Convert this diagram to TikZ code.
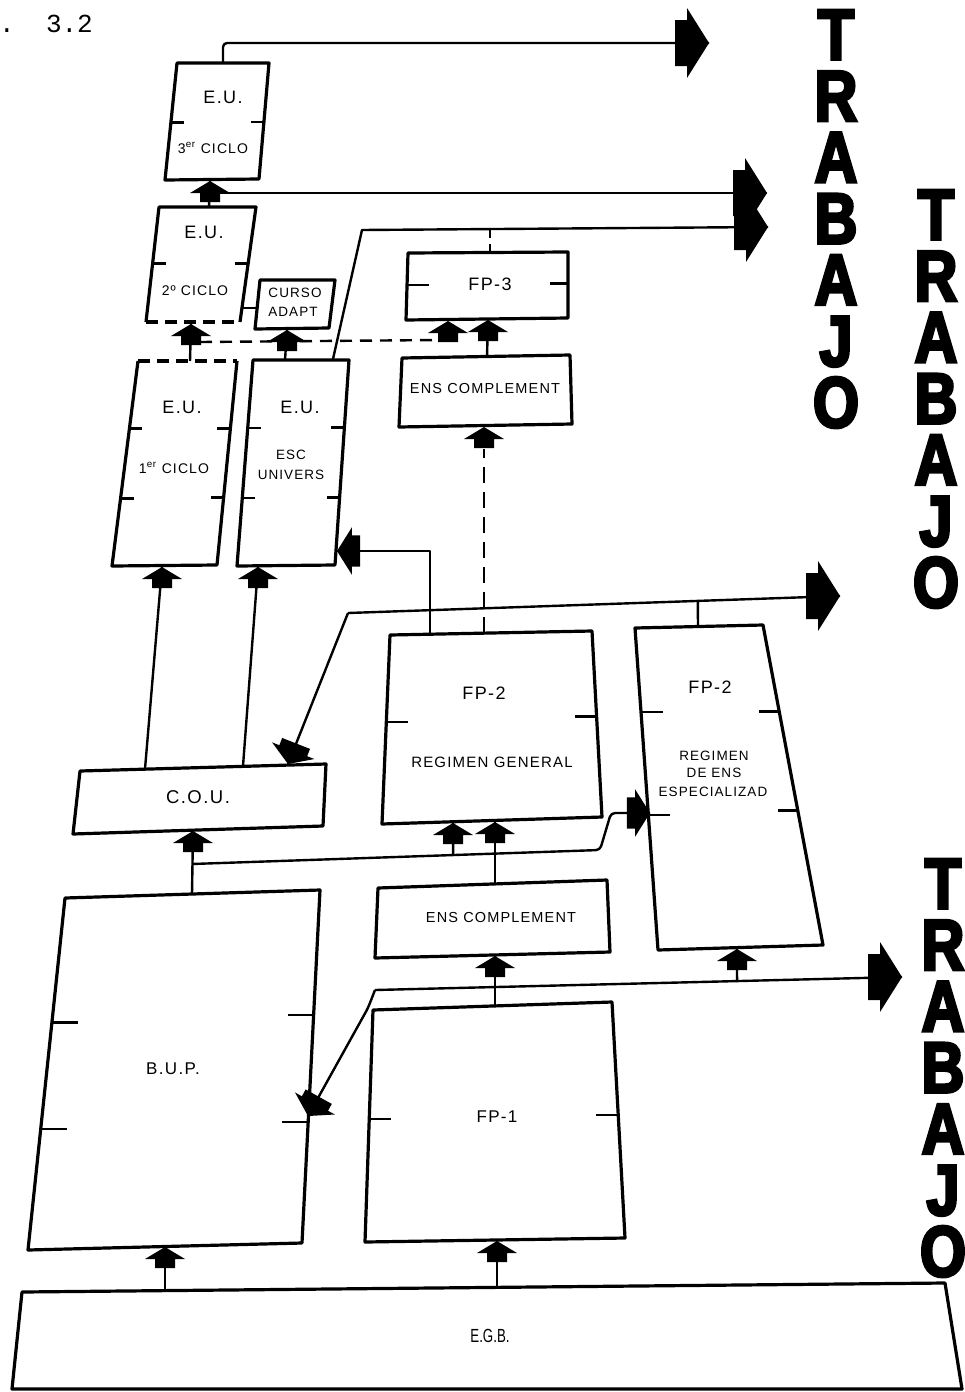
\documentclass[tikz,border=0pt]{standalone}
\usepackage{fontspec}
\setmainfont{Liberation Sans}
\newfontfamily\lab{Liberation Sans}[LetterSpace=8]
\newfontfamily\trab{Liberation Sans}[UprightFont={* Bold}, FakeStretch=0.82, FakeBold=4]
\newfontfamily\mono{Liberation Mono}
\usetikzlibrary{calc}
\newcommand\fsz[1]{\fontsize{#1}{#1}\selectfont}
\begin{document}
\begin{tikzpicture}[x=1pt,y=-1pt,
  box/.style={line width=3.2pt, line join=round},
  conn/.style={line width=2.4pt, line join=round},
  dconn/.style={line width=2.4pt, dash pattern=on 12pt off 8pt},
  lbl/.style={inner sep=0pt, font=\lab},
  trl/.style={inner sep=0pt, align=center, font=\trab\fontsize{72}{61.3}\selectfont},
  uparr/.pic={\fill (0,0) -- (20,12) -- (10,12) -- (10,21) -- (-10,21) -- (-10,12) -- (-20,12) -- cycle;},
  bigarr/.pic={\fill (0,0) -- (-22,-35) -- (-22,-23) -- (-34,-23) -- (-34,23) -- (-22,23) -- (-22,35) -- cycle;}
]
\useasboundingbox (0,0) rectangle (964,1392);

% ---------- boxes ----------
% E.U. 3er ciclo
\coordinate (eu3-tl) at (177,63); \coordinate (eu3-tr) at (269,63);
\coordinate (eu3-br) at (259,179); \coordinate (eu3-bl) at (165,180);
\draw[box] (eu3-tl) -- (eu3-tr) -- (eu3-br) -- (eu3-bl) -- cycle;
\draw[conn] ($(eu3-tl)!0.51!(eu3-bl)$) -- +(13,0);
\draw[conn] ($(eu3-tr)!0.51!(eu3-br)$) -- +(-13,0);
\node[lbl] (eu3a) at (223,97) {\fsz{18}E.U.};
\node[lbl] (eu3b) at (213,148) {\fsz{14}3\textsuperscript{er} CICLO};

% E.U. 2o ciclo
\coordinate (eu2-tl) at (159,207); \coordinate (eu2-tr) at (256,207);
\coordinate (eu2-br) at (240,322); \coordinate (eu2-bl) at (146,322);
\draw[box] (eu2-br) -- (eu2-tr) -- (eu2-tl) -- (eu2-bl);
\draw[box, dash pattern=on 12pt off 7pt] (eu2-bl) -- (eu2-br);
\draw[conn] ($(eu2-tl)!0.49!(eu2-bl)$) -- +(13,0);
\draw[conn] ($(eu2-tr)!0.49!(eu2-br)$) -- +(-13,0);
\node[lbl] (eu2a) at (204,232) {\fsz{18}E.U.};
\node[lbl] (eu2b) at (195,291) {\fsz{14}2º CICLO};

% CURSO ADAPT
\coordinate (cur-tl) at (260,280); \coordinate (cur-tr) at (335,280);
\coordinate (cur-br) at (329,328); \coordinate (cur-bl) at (255,329);
\draw[box] (cur-tl) -- (cur-tr) -- (cur-br) -- (cur-bl) -- cycle;
\node[lbl] (cura) at (295,293) {\fsz{13.5}CURSO};
\node[lbl] (curb) at (293,312) {\fsz{13.5}ADAPT};

% E.U. 1er ciclo
\coordinate (eu1-tl) at (138,361); \coordinate (eu1-tr) at (237,361);
\coordinate (eu1-br) at (217,565); \coordinate (eu1-bl) at (112,566);
\draw[box] (eu1-tr) -- (eu1-br) -- (eu1-bl) -- (eu1-tl);
\draw[box, dash pattern=on 12pt off 7pt] (eu1-tl) -- (eu1-tr);
\draw[conn] ($(eu1-tl)!0.33!(eu1-bl)$) -- +(13,0);
\draw[conn] ($(eu1-tr)!0.33!(eu1-br)$) -- +(-13,0);
\draw[conn] ($(eu1-tl)!0.67!(eu1-bl)$) -- +(13,0);
\draw[conn] ($(eu1-tr)!0.67!(eu1-br)$) -- +(-13,0);
\node[lbl] (eu1a) at (182,407) {\fsz{18}E.U.};
\node[lbl] (eu1b) at (174,468) {\fsz{14}1\textsuperscript{er} CICLO};

% E.U. Esc Univers
\coordinate (esc-tl) at (253,360); \coordinate (esc-tr) at (349,360);
\coordinate (esc-br) at (335,565); \coordinate (esc-bl) at (237,566);
\draw[box] (esc-tl) -- (esc-tr) -- (esc-br) -- (esc-bl) -- cycle;
\draw[conn] ($(esc-tl)!0.33!(esc-bl)$) -- +(13,0);
\draw[conn] ($(esc-tr)!0.33!(esc-br)$) -- +(-13,0);
\draw[conn] ($(esc-tl)!0.67!(esc-bl)$) -- +(13,0);
\draw[conn] ($(esc-tr)!0.67!(esc-br)$) -- +(-13,0);
\node[lbl] (esca) at (300,407) {\fsz{18}E.U.};
\node[lbl] (escb) at (291,455) {\fsz{13.5}ESC};
\node[lbl] (escc) at (291,475) {\fsz{13.5}UNIVERS};

% FP-3
\coordinate (fp3-tl) at (408,253); \coordinate (fp3-tr) at (568,252);
\coordinate (fp3-br) at (568,318); \coordinate (fp3-bl) at (406,320);
\draw[box] (fp3-tl) -- (fp3-tr) -- (fp3-br) -- (fp3-bl) -- cycle;
\draw[conn] ($(fp3-tl)!0.48!(fp3-bl)$) -- +(22,0);
\draw[conn] ($(fp3-tr)!0.48!(fp3-br)$) -- +(-18,0);
\node[lbl] (fp3a) at (490,284) {\fsz{18}FP-3};

% ENS COMPLEMENT (upper)
\coordinate (ens1-tl) at (402,358); \coordinate (ens1-tr) at (570,355);
\coordinate (ens1-br) at (572,424); \coordinate (ens1-bl) at (399,427);
\draw[box] (ens1-tl) -- (ens1-tr) -- (ens1-br) -- (ens1-bl) -- cycle;
\node[lbl] (ens1a) at (485,389) {\fsz{14.5}ENS COMPLEMENT};

% FP-2 regimen general
\coordinate (fp2g-tl) at (390,635); \coordinate (fp2g-tr) at (592,631);
\coordinate (fp2g-br) at (602,817); \coordinate (fp2g-bl) at (382,824);
\draw[box] (fp2g-tl) -- (fp2g-tr) -- (fp2g-br) -- (fp2g-bl) -- cycle;
\draw[conn] ($(fp2g-tl)!0.46!(fp2g-bl)$) -- +(22,0);
\draw[conn] ($(fp2g-tr)!0.46!(fp2g-br)$) -- +(-22,0);
\node[lbl] (fp2ga) at (484,693) {\fsz{18}FP-2};
\node[lbl] (fp2gb) at (492,762) {\fsz{15}REGIMEN GENERAL};

% FP-2 regimen de ens especializad
\coordinate (fp2e-tl) at (635,628); \coordinate (fp2e-tr) at (763,625);
\coordinate (fp2e-br) at (823,945); \coordinate (fp2e-bl) at (658,950);
\draw[box] (fp2e-tl) -- (fp2e-tr) -- (fp2e-br) -- (fp2e-bl) -- cycle;
\draw[conn] ($(fp2e-tl)!0.26!(fp2e-bl)$) -- +(22,0);
\draw[conn] ($(fp2e-tr)!0.27!(fp2e-br)$) -- +(-20,0);
\draw[conn] ($(fp2e-tl)!0.58!(fp2e-bl)$) -- +(22,0);
\draw[conn] ($(fp2e-tr)!0.58!(fp2e-br)$) -- +(-20,0);
\node[lbl] (fp2ea) at (710,687) {\fsz{18}FP-2};
\node[lbl] (fp2eb) at (714,756) {\fsz{13.5}REGIMEN};
\node[lbl] (fp2ec) at (714,773) {\fsz{13.5}DE ENS};
\node[lbl] (fp2ed) at (713,792) {\fsz{13.5}ESPECIALIZAD};

% C.O.U.
\coordinate (cou-tl) at (80,771); \coordinate (cou-tr) at (326,764);
\coordinate (cou-br) at (323,826); \coordinate (cou-bl) at (73,834);
\draw[box] (cou-tl) -- (cou-tr) -- (cou-br) -- (cou-bl) -- cycle;
\node[lbl] (coua) at (198,797) {\fsz{18.5}C.O.U.};

% ENS COMPLEMENT (lower)
\coordinate (ens2-tl) at (378,888); \coordinate (ens2-tr) at (607,880);
\coordinate (ens2-br) at (610,952); \coordinate (ens2-bl) at (375,958);
\draw[box] (ens2-tl) -- (ens2-tr) -- (ens2-br) -- (ens2-bl) -- cycle;
\node[lbl] (ens2a) at (501,917) {\fsz{14.5}ENS COMPLEMENT};

% B.U.P.
\coordinate (bup-tl) at (65,898); \coordinate (bup-tr) at (320,890);
\coordinate (bup-br) at (302,1243); \coordinate (bup-bl) at (28,1250);
\draw[box] (bup-tl) -- (bup-tr) -- (bup-br) -- (bup-bl) -- cycle;
\draw[conn] ($(bup-tl)!0.354!(bup-bl)$) -- +(26,0);
\draw[conn] ($(bup-tr)!0.354!(bup-br)$) -- +(-26,0);
\draw[conn] ($(bup-tl)!0.657!(bup-bl)$) -- +(26,0);
\draw[conn] ($(bup-tr)!0.657!(bup-br)$) -- +(-26,0);
\node[lbl] (bupa) at (173,1069) {\fsz{17}B.U.P.};

% FP-1
\coordinate (fp1-tl) at (373,1010); \coordinate (fp1-tr) at (612,1002);
\coordinate (fp1-br) at (625,1238); \coordinate (fp1-bl) at (365,1242);
\draw[box] (fp1-tl) -- (fp1-tr) -- (fp1-br) -- (fp1-bl) -- cycle;
\draw[conn] ($(fp1-tl)!0.47!(fp1-bl)$) -- +(22,0);
\draw[conn] ($(fp1-tr)!0.48!(fp1-br)$) -- +(-22,0);
\node[lbl] (fp1a) at (497,1117) {\fsz{17}FP-1};

% E.G.B.
\coordinate (egb-tl) at (22,1292); \coordinate (egb-tr) at (945,1283);
\coordinate (egb-br) at (962,1389); \coordinate (egb-bl) at (12,1389);
\draw[box] (egb-tl) -- (egb-tr) -- (egb-br) -- (egb-bl) -- cycle;
\node[inner sep=0pt] (egba) at (490,1336) {\fsz{19}\scalebox{0.7}[1]{E.G.B.}};

% ---------- connection points ----------
\coordinate (eu3-top) at (223,63);
\coordinate (eu3-bot) at (210,181);
\coordinate (eu2-top) at (209,207);
\coordinate (eu2-bot) at (191,324);
\coordinate (eu2-r) at (241,308);
\coordinate (cur-l) at (257,308);
\coordinate (cur-bot) at (287,330);
\coordinate (eu1-top) at (190,361);
\coordinate (eu1-bot) at (162,567);
\coordinate (esc-top) at (285,360);
\coordinate (esc-top2) at (333,359);
\coordinate (esc-bot) at (258,567);
\coordinate (esc-in) at (337,551);
\coordinate (fp3-top) at (490,253);
\coordinate (fp3-botL) at (448,321);
\coordinate (fp3-botR) at (488,320);
\coordinate (ens1-top) at (487,357);
\coordinate (ens1-bot) at (484,427);
\coordinate (fp2g-top1) at (430,634);
\coordinate (fp2g-top2) at (484,633);
\coordinate (fp2g-botL) at (453,823);
\coordinate (fp2g-botR) at (495,822);
\coordinate (fp2e-top) at (698,627);
\coordinate (fp2e-in) at (650,813);
\coordinate (fp2e-bot) at (737,949);
\coordinate (cou-t1) at (145,769);
\coordinate (cou-t2) at (243,766);
\coordinate (cou-in) at (288,764);
\coordinate (cou-bot) at (193,831);
\coordinate (bup-top) at (192,894);
\coordinate (bup-in) at (308,1116);
\coordinate (bup-bot) at (165,1247);
\coordinate (ens2-top) at (495,884);
\coordinate (ens2-bot) at (495,956);
\coordinate (fp1-top) at (495,1006);
\coordinate (fp1-bot) at (497,1241);
\coordinate (egb-t1) at (165,1291);
\coordinate (egb-t2) at (497,1287);
% junctions and bends
\coordinate (d1) at (200,342);
\coordinate (j3) at (362,230);
\coordinate (j12) at (348,613);
\coordinate (j15) at (192,864);
\coordinate (b15) at (600,850);
\coordinate (c15) at (611,813);
\coordinate (j18) at (375,990);
\coordinate (k19) at (368,1008);
% exits to TRABAJO
\coordinate (w1) at (709,43);
\coordinate (w2) at (767,193);
\coordinate (w3) at (768,227);
\coordinate (w4) at (840,596);
\coordinate (w5) at (902,977);

% ---------- connectors ----------
\draw[conn, rounded corners=4pt] (eu3-top) |- (w1);
\draw[conn] (eu2-top) -- (eu3-bot);
\draw[conn] (eu3-bot |- w2) -- (w2);
\draw[conn] (esc-top2) -- (j3) -- (w3);
\draw[dconn, dash pattern=on 9pt off 6pt] (fp3-top) -- (fp3-top |- j3);
\draw[conn] (eu2-r) -- (cur-l);
\draw[conn] (eu1-top) -- (eu2-bot);
\draw[conn] (esc-top) -- (cur-bot);
\draw[dconn] (d1) -- ($(fp3-botL)+(-6,19)$);
\draw[conn] (ens1-top) -- (fp3-botR);
\draw[dconn, dash pattern=on 16pt off 9pt] (fp2g-top2) -- ($(ens1-bot)+(0,22)$);
\draw[conn] (fp2g-top1) |- (esc-in);
\draw[conn] (j12) -- (w4);
\draw[conn] (fp2e-top) -- ($(j12)!0.711!(w4)$);
\draw[conn] (j12) -- (cou-in);
\draw[conn] (cou-t1) -- (eu1-bot);
\draw[conn] (cou-t2) -- (esc-bot);
\draw[conn] (bup-top) -- (cou-bot);
\draw[conn, rounded corners=4pt] (j15) -- (b15) -- (c15) -- (fp2e-in);
\draw[conn] ($(j15)!0.64!(b15)$) -- (fp2g-botL);
\draw[conn] (ens2-top) -- (fp2g-botR);
\draw[conn] (fp1-top) -- (ens2-bot);
\draw[conn] (j18) -- (w5);
\draw[conn] ($(j18)!0.687!(w5)$) -- (fp2e-bot);
\draw[conn, rounded corners=5pt] (j18) -- (k19) -- (bup-in);
\draw[conn] (egb-t1) -- (bup-bot);
\draw[conn] (egb-t2) -- (fp1-bot);

% ---------- arrowheads ----------
\pic at (eu3-bot) {uparr};
\pic at (eu2-bot) {uparr};
\pic at (cur-bot) {uparr};
\pic at (fp3-botL) {uparr};
\pic at (fp3-botR) {uparr};
\pic at (ens1-bot) {uparr};
\pic at (eu1-bot) {uparr};
\pic at (esc-bot) {uparr};
\pic at (cou-bot) {uparr};
\pic at (fp2g-botL) {uparr};
\pic at (fp2g-botR) {uparr};
\pic at (ens2-bot) {uparr};
\pic at (fp2e-bot) {uparr};
\pic at (bup-bot) {uparr};
\pic at (fp1-bot) {uparr};
\pic at (w1) {bigarr};
\pic at (w2) {bigarr};
\pic at (w3) {bigarr};
\pic at (w4) {bigarr};
\pic at (w5) {bigarr};
\pic[rotate=180, scale=0.68] at (esc-in) {bigarr};
\pic[scale=0.68] at (fp2e-in) {bigarr};
\pic[rotate=248.5, scale=0.65] at (cou-in) {bigarr};
\pic[rotate=241, scale=0.65] at (bup-in) {bigarr};

% ---------- TRABAJO ----------
\node[trl] (trabajo1) at (836,219) {T\\R\\A\\B\\A\\J\\O};
\node[trl] (trabajo2) at (936,399) {T\\R\\A\\B\\A\\J\\O};
\node[trl] (trabajo3) at (943,1068) {T\\R\\A\\B\\A\\J\\O};

% ---------- figure number ----------
\node[inner sep=0pt, anchor=base west, font=\mono\fsz{26}] (fig) at (-1,32) {.\ \ 3.2};
\end{tikzpicture}
\end{document}
